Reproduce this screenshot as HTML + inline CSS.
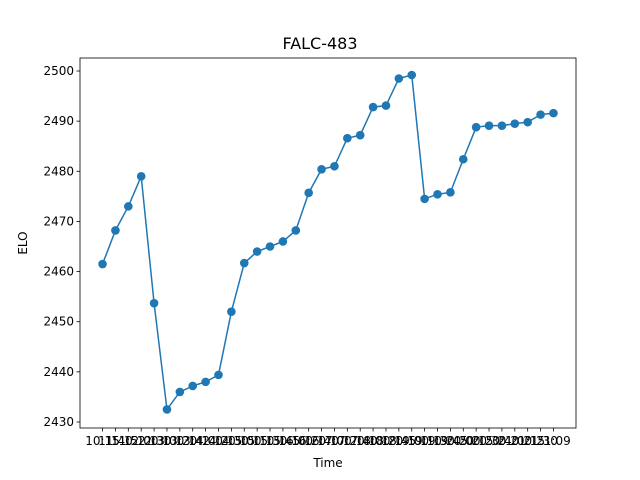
<!DOCTYPE html>
<html><head><meta charset="utf-8"><style>body{margin:0;background:#fff}svg{display:block;font-family:"DejaVu Sans","Liberation Sans",sans-serif}</style></head>
<body>
<svg id="c" width="640" height="480"></svg>
<script>
const categories=["10:15","11:40","11:52","12:00","12:30","13:00","13:20","13:42","14:00","14:20","14:30","15:00","15:10","15:30","15:45","16:00","16:20","16:40","17:00","17:20","17:40","18:00","18:20","18:45","19:00","19:10","19:30","19:45","20:00","20:15","20:30","20:40","21:00","21:15","21:30","21:09"];
const eloValues=[2461.5,2468.2,2473,2479,2453.7,2432.5,2436,2437.2,2438,2439.4,2452,2461.7,2464,2465,2466,2468.2,2475.7,2480.4,2481,2486.6,2487.2,2492.8,2493.1,2498.5,2499.2,2474.5,2475.4,2475.8,2482.4,2488.8,2489.1,2489.1,2489.5,2489.8,2491.3,2491.6];
const yTicks=[2430,2440,2450,2460,2470,2480,2490,2500];
const NS="http://www.w3.org/2000/svg",svg=document.getElementById('c');
const L=80,R=576,T=58,B=428;
const n=categories.length;
const xs=i=>L+(i+0.05*(n-1))/((n-1)*1.1)*(R-L);
const ys=v=>422-(v-2430)*(351/70);
function el(t,a,p){const e=document.createElementNS(NS,t);for(const k in a)e.setAttribute(k,a[k]);(p||svg).appendChild(e);return e;}
let t=el('text',{x:320,y:49,'text-anchor':'middle','font-size':16});t.textContent='FALC-483';


let ax=el('rect',{x:L,y:T,width:R-L,height:B-T,fill:'none',stroke:'#000','stroke-width':0.8});


yTicks.forEach(v=>{const y=ys(v);el('line',{x1:L-3.5,x2:L,y1:y,y2:y,stroke:'#000','stroke-width':0.8});
const tx=el('text',{x:L-6,y:y+4,'text-anchor':'end','font-size':12});tx.textContent=v;

});
categories.forEach((c,i)=>{const x=xs(i);el('line',{x1:x,x2:x,y1:B,y2:B+3.5,stroke:'#000','stroke-width':0.8});
const tx=el('text',{x:x,y:B+17,'text-anchor':'middle','font-size':12});tx.textContent=c;

});
let xl=el('text',{x:328,y:467,'text-anchor':'middle','font-size':12});xl.textContent='Time';


let yl=el('text',{x:27,y:243,'text-anchor':'middle','font-size':12,transform:'rotate(-90 27 243)'});yl.textContent='ELO';


let pl=el('polyline',{points:eloValues.map((v,i)=>xs(i)+','+ys(v)).join(' '),fill:'none',stroke:'#1f77b4','stroke-width':1.5});


eloValues.forEach((v,i)=>{const c=el('circle',{cx:xs(i),cy:ys(v),r:4.3,fill:'#1f77b4'});

});
</script>
</body></html>
